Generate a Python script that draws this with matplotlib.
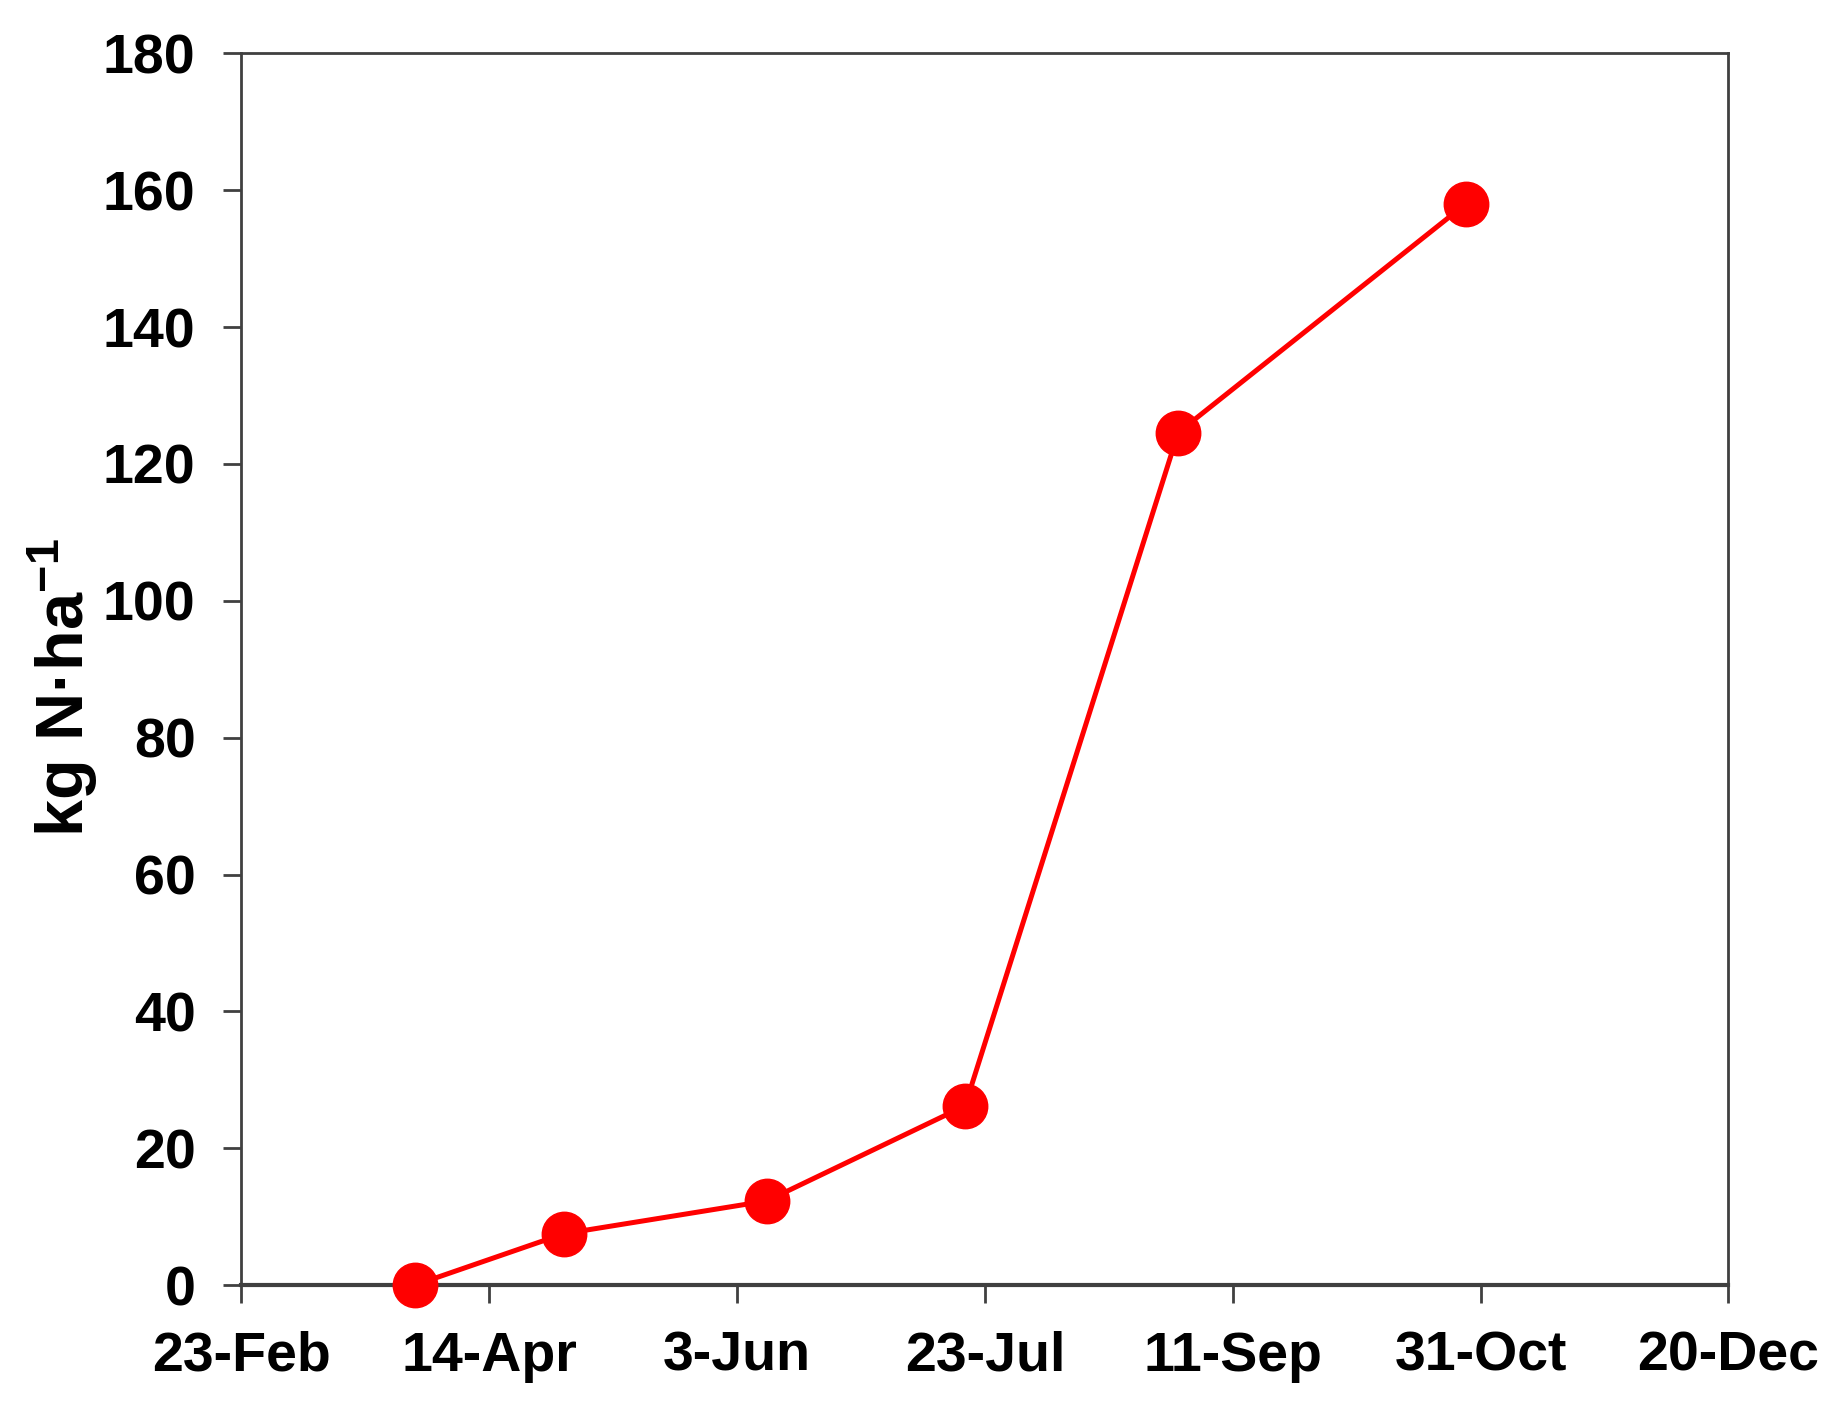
import datetime as dt
import matplotlib
matplotlib.use("Agg")
import matplotlib.pyplot as plt

# sampling dates and cumulative N (kg N/ha)
dates = ["2019-03-30", "2019-04-29", "2019-06-09", "2019-07-19", "2019-08-31", "2019-10-28"]
values = [0, 7.5, 12.3, 26.2, 124.6, 158]
tick_dates = ["2019-02-23", "2019-04-14", "2019-06-03", "2019-07-23",
              "2019-09-11", "2019-10-31", "2019-12-20"]
tick_labels = ["23-Feb", "14-Apr", "3-Jun", "23-Jul", "11-Sep", "31-Oct", "20-Dec"]
y_ticks = [0, 20, 40, 60, 80, 100, 120, 140, 160, 180]

plt.rcParams["font.family"] = ["Liberation Sans", "DejaVu Sans"]
plt.rcParams["font.weight"] = "bold"
plt.rcParams["mathtext.fontset"] = "custom"
plt.rcParams["mathtext.rm"] = "Liberation Sans:bold"
plt.rcParams["mathtext.default"] = "rm"

x = [dt.datetime.strptime(d, "%Y-%m-%d") for d in dates]
xt = [dt.datetime.strptime(d, "%Y-%m-%d") for d in tick_dates]

fig = plt.figure(figsize=(18.29, 14.06), dpi=100)
ax = fig.add_axes([0.132, 0.086, 0.813, 0.876])

ax.plot(x, values, color="#ff0000", lw=3.6, marker="o", ms=32, zorder=5, clip_on=False)

ax.set_xlim(xt[0], xt[-1])
ax.set_ylim(0, 180)
ax.set_xticks(xt)
ax.set_xticklabels(tick_labels)
ax.set_yticks(y_ticks)

spine_col = "#404040"
for s in ax.spines.values():
    s.set_color(spine_col)
    s.set_linewidth(2)
ax.spines["bottom"].set_linewidth(3)
ax.tick_params(axis="both", direction="out", length=13, width=2, color=spine_col,
               labelsize=40, pad=20)

ax.set_ylabel("kg N·ha$^{-1}$", fontsize=48, fontweight="bold")
ax.yaxis.set_label_coords(-0.095, 0.485)

fig.savefig("out.png", dpi=100)
